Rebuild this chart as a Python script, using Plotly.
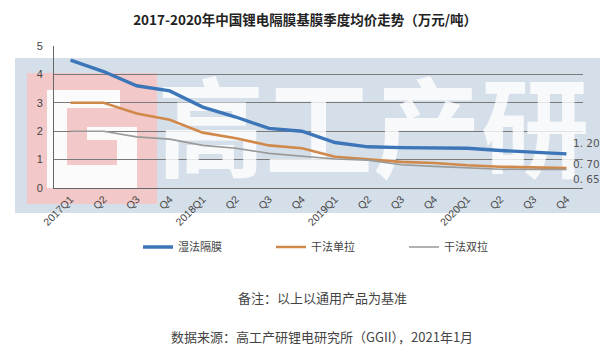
import plotly.graph_objects as go

# ---------------- data ----------------
quarters = ["2017Q1", "Q2", "Q3", "Q4", "2018Q1", "Q2", "Q3", "Q4",
            "2019Q1", "Q2", "Q3", "Q4", "2020Q1", "Q2", "Q3", "Q4"]
wet = [4.5, 4.1, 3.6, 3.42, 2.85, 2.5, 2.1, 2.0, 1.6, 1.45, 1.42, 1.4, 1.4, 1.32, 1.25, 1.2]
dry_single = [3.0, 3.0, 2.62, 2.4, 1.95, 1.75, 1.5, 1.4, 1.1, 1.0, 0.92, 0.88, 0.8, 0.75, 0.72, 0.70]
dry_double = [2.0, 2.0, 1.8, 1.72, 1.5, 1.4, 1.22, 1.12, 1.02, 0.98, 0.82, 0.76, 0.72, 0.66, 0.65, 0.65]
series_names = ["湿法隔膜", "干法单拉", "干法双拉"]
end_labels = ["1. 20", "0. 70", "0. 65"]
yticks = [0, 1, 2, 3, 4, 5]

title = "2017-2020年中国锂电隔膜基膜季度均价走势（万元/吨）"
note1 = "备注：以上以通用产品为基准"
note2 = "数据来源：高工产研锂电研究所（GGII），2021年1月"
watermark = "高工产研"

# ---------------- layout geometry ----------------
W, H = 600, 352
L, R, T, B = 54, 583, 46, 188


def px(x):
    return (x - L) / (R - L)


def py(y):
    return (B - y) / (B - T)


colors = ["#3d76b8", "#d0894a", "#9a9a9a"]
widths = [3.4, 2.6, 1.6]
xs = list(range(len(quarters)))

fig = go.Figure()

# watermark text (under the data lines)
fig.add_trace(go.Scatter(
    x=[9.15], y=[1.62], mode="text", text=[watermark],
    textfont=dict(family="Noto Sans CJK SC", size=108, weight="bold",
                  color="rgba(255,255,255,0.8)"),
    cliponaxis=False, showlegend=False, hoverinfo="skip"))

for name, vals, c, w in zip(series_names, [wet, dry_single, dry_double], colors, widths):
    fig.add_trace(go.Scatter(x=xs, y=vals, mode="lines", name=name,
                             line=dict(color=c, width=w), hoverinfo="skip"))

shapes = []


def rect(x0, y0, x1, y1, color):
    shapes.append(dict(type="rect", xref="paper", yref="paper",
                       x0=px(x0), x1=px(x1), y0=py(y1), y1=py(y0),
                       fillcolor=color, line=dict(width=0), layer="below"))


# watermark band + "G" logo
rect(15, 58, 600, 213, "#d5dfe9")
rect(27, 73, 157, 204, "#f2c8c8")
white = "#fbfbfb"
rect(47, 90, 67, 188, white)
rect(47, 90, 120, 108, white)
rect(47, 165, 137, 188, white)
rect(117, 127, 137, 188, white)
rect(87, 127, 137, 140, white)

annotations = []
ys_end = [wet[-1], dry_single[-1], dry_double[-1]]
shifts = [11, 4, -9]
for lab, yv, s in zip(end_labels, ys_end, shifts):
    annotations.append(dict(x=len(quarters) - 1, y=yv, xref="x", yref="y", text=lab,
                            showarrow=False, xanchor="left", yanchor="middle",
                            xshift=5, yshift=s,
                            font=dict(family="DejaVu Sans", size=10.5, color="#555555")))

annotations.append(dict(x=px(322), y=py(297), xref="paper", yref="paper", text=note1,
                        showarrow=False, xanchor="center", yanchor="middle",
                        font=dict(family="Noto Sans CJK SC", size=13, color="#444444")))
annotations.append(dict(x=px(322), y=py(336), xref="paper", yref="paper", text=note2,
                        showarrow=False, xanchor="center", yanchor="middle",
                        font=dict(family="Noto Sans CJK SC", size=13, color="#444444")))

fig.update_layout(
    width=W, height=H,
    margin=dict(l=L, r=W - R, t=T, b=H - B, pad=0),
    paper_bgcolor="white", plot_bgcolor="rgba(0,0,0,0)",
    title=dict(text="<b>" + title + "</b>", x=px(323), xanchor="center",
               y=1 - 20 / H, yanchor="middle",
               font=dict(family="Noto Sans CJK SC", size=13.5, color="#222222")),
    xaxis=dict(range=[-0.5, len(quarters) - 0.5], tickmode="array", tickvals=xs,
               ticktext=quarters, tickangle=-45, showgrid=False, zeroline=False,
               showline=True, linecolor="#666666", linewidth=1,
               ticks="", tickfont=dict(family="Liberation Sans", size=10.5, color="#444444")),
    yaxis=dict(range=[0, 5], tickmode="array", tickvals=yticks, showgrid=True,
               gridcolor="#7a7a7a", gridwidth=1, zeroline=False,
               showline=True, linecolor="#666666", linewidth=1, ticks="",
               ticklabelstandoff=8,
               tickfont=dict(family="Liberation Sans", size=11, color="#444444")),
    legend=dict(orientation="h", x=px(138), xanchor="left", y=py(247), yanchor="middle",
                font=dict(family="Noto Sans CJK SC", size=11, color="#444444"),
                entrywidth=88, entrywidthmode="pixels", bgcolor="rgba(0,0,0,0)",
                itemwidth=30),
    shapes=shapes, annotations=annotations,
)

fig.write_html("out.html")
